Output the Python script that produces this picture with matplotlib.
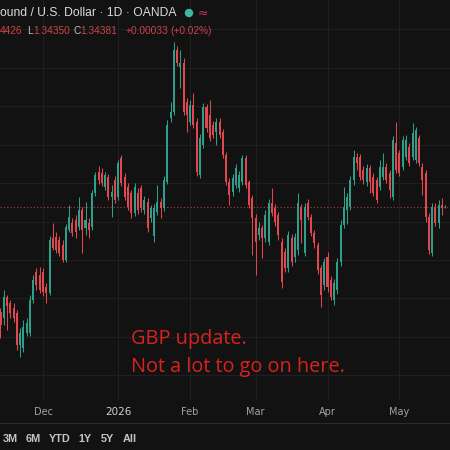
import numpy as np
import pandas as pd
import matplotlib
matplotlib.use('Agg')
import matplotlib.pyplot as plt
from matplotlib.lines import Line2D

# daily GBP/USD candles (12 Nov 2025 .. 21 May 2026)
opens = [1.3165, 1.3149, 1.3204, 1.3188, 1.3175, 1.3162, 1.3079, 1.3071, 1.3110, 1.3110,
         1.3196, 1.3269, 1.3261, 1.3269, 1.3230, 1.3214, 1.3357, 1.3360, 1.3352, 1.3339,
         1.3300, 1.3378, 1.3396, 1.3404, 1.3386, 1.3430, 1.3383, 1.3396, 1.3386, 1.3474,
         1.3529, 1.3526, 1.3490, 1.3516, 1.3464, 1.3508, 1.3464, 1.3565, 1.3516, 1.3490,
         1.3474, 1.3422, 1.3474, 1.3487, 1.3430, 1.3451, 1.3409, 1.3362, 1.3425, 1.3451,
         1.3435, 1.3503, 1.3669, 1.3685, 1.3846, 1.3802, 1.3812, 1.3711, 1.3659, 1.3703,
         1.3659, 1.3521, 1.3599, 1.3698, 1.3677, 1.3651, 1.3633, 1.3659, 1.3633, 1.3573,
         1.3503, 1.3477, 1.3495, 1.3487, 1.3503, 1.3565, 1.3503, 1.3461, 1.3409, 1.3365,
         1.3383, 1.3357, 1.3347, 1.3448, 1.3435, 1.3417, 1.3347, 1.3321, 1.3279, 1.3357,
         1.3308, 1.3326, 1.3438, 1.3318, 1.3448, 1.3412, 1.3370, 1.3339, 1.3279, 1.3235,
         1.3308, 1.3248, 1.3196, 1.3222, 1.3295, 1.3391, 1.3430, 1.3438, 1.3508, 1.3568,
         1.3568, 1.3534, 1.3503, 1.3539, 1.3516, 1.3508, 1.3490, 1.3516, 1.3542, 1.3526,
         1.3464, 1.3604, 1.3578, 1.3542, 1.3568, 1.3594, 1.3568, 1.3560, 1.3617, 1.3542,
         1.3526, 1.3412, 1.3318, 1.3438, 1.3396, 1.3443, 1.3437]
highs = [1.3175, 1.3222, 1.3209, 1.3196, 1.3188, 1.3170, 1.3123, 1.3144, 1.3149, 1.3209,
         1.3261, 1.3279, 1.3282, 1.3279, 1.3240, 1.3362, 1.3396, 1.3373, 1.3362, 1.3352,
         1.3394, 1.3443, 1.3409, 1.3417, 1.3464, 1.3438, 1.3451, 1.3409, 1.3482, 1.3529,
         1.3544, 1.3539, 1.3529, 1.3524, 1.3495, 1.3518, 1.3560, 1.3573, 1.3526, 1.3500,
         1.3482, 1.3500, 1.3487, 1.3495, 1.3466, 1.3461, 1.3443, 1.3446, 1.3495, 1.3461,
         1.3518, 1.3664, 1.3711, 1.3867, 1.3856, 1.3846, 1.3825, 1.3721, 1.3716, 1.3734,
         1.3669, 1.3628, 1.3708, 1.3706, 1.3716, 1.3661, 1.3669, 1.3669, 1.3641, 1.3581,
         1.3513, 1.3524, 1.3550, 1.3531, 1.3573, 1.3573, 1.3508, 1.3469, 1.3420, 1.3399,
         1.3391, 1.3430, 1.3459, 1.3487, 1.3446, 1.3425, 1.3357, 1.3331, 1.3375, 1.3368,
         1.3370, 1.3474, 1.3446, 1.3448, 1.3459, 1.3420, 1.3378, 1.3347, 1.3287, 1.3305,
         1.3321, 1.3258, 1.3251, 1.3305, 1.3404, 1.3490, 1.3474, 1.3518, 1.3586, 1.3578,
         1.3576, 1.3544, 1.3550, 1.3547, 1.3526, 1.3516, 1.3560, 1.3578, 1.3552, 1.3534,
         1.3622, 1.3659, 1.3586, 1.3622, 1.3625, 1.3604, 1.3656, 1.3646, 1.3625, 1.3552,
         1.3534, 1.3422, 1.3448, 1.3448, 1.3456, 1.3461, 1.34426]
lows = [1.3097, 1.3131, 1.3118, 1.3149, 1.3139, 1.3066, 1.3048, 1.3061, 1.3102, 1.3102,
        1.3188, 1.3222, 1.3214, 1.3206, 1.3188, 1.3209, 1.3326, 1.3318, 1.3310, 1.3295,
        1.3295, 1.3373, 1.3362, 1.3357, 1.3378, 1.3318, 1.3365, 1.3357, 1.3378, 1.3466,
        1.3498, 1.3492, 1.3482, 1.3456, 1.3412, 1.3448, 1.3456, 1.3492, 1.3456, 1.3430,
        1.3409, 1.3414, 1.3420, 1.3425, 1.3420, 1.3373, 1.3399, 1.3347, 1.3417, 1.3409,
        1.3427, 1.3498, 1.3659, 1.3677, 1.3804, 1.3747, 1.3677, 1.3633, 1.3651, 1.3643,
        1.3518, 1.3513, 1.3591, 1.3633, 1.3609, 1.3617, 1.3599, 1.3617, 1.3565, 1.3495,
        1.3443, 1.3466, 1.3487, 1.3477, 1.3495, 1.3487, 1.3435, 1.3313, 1.3261, 1.3352,
        1.3305, 1.3347, 1.3339, 1.3414, 1.3388, 1.3352, 1.3227, 1.3269, 1.3269, 1.3284,
        1.3295, 1.3313, 1.3344, 1.3310, 1.3404, 1.3362, 1.3331, 1.3264, 1.3178, 1.3222,
        1.3217, 1.3196, 1.3183, 1.3212, 1.3284, 1.3383, 1.3394, 1.3430, 1.3495, 1.3534,
        1.3508, 1.3498, 1.3492, 1.3474, 1.3466, 1.3448, 1.3482, 1.3508, 1.3500, 1.3461,
        1.3456, 1.3526, 1.3518, 1.3534, 1.3560, 1.3544, 1.3560, 1.3552, 1.3544, 1.3469,
        1.3399, 1.3316, 1.3310, 1.3388, 1.3383, 1.3417, 1.34350]
closes = [1.3131, 1.3204, 1.3180, 1.3162, 1.3149, 1.3079, 1.3110, 1.3126, 1.3136, 1.3196,
          1.3248, 1.3235, 1.3222, 1.3217, 1.3214, 1.3352, 1.3331, 1.3326, 1.3318, 1.3300,
          1.3386, 1.3412, 1.3370, 1.3373, 1.3430, 1.3378, 1.3404, 1.3378, 1.3474, 1.3521,
          1.3508, 1.3500, 1.3521, 1.3464, 1.3477, 1.3456, 1.3552, 1.3500, 1.3464, 1.3438,
          1.3422, 1.3490, 1.3430, 1.3435, 1.3456, 1.3383, 1.3435, 1.3435, 1.3451, 1.3435,
          1.3508, 1.3651, 1.3685, 1.3846, 1.3812, 1.3812, 1.3685, 1.3677, 1.3703, 1.3651,
          1.3529, 1.3617, 1.3698, 1.3643, 1.3617, 1.3625, 1.3659, 1.3625, 1.3573, 1.3503,
          1.3469, 1.3513, 1.3539, 1.3521, 1.3565, 1.3495, 1.3443, 1.3409, 1.3347, 1.3383,
          1.3357, 1.3417, 1.3448, 1.3422, 1.3399, 1.3365, 1.3243, 1.3279, 1.3365, 1.3295,
          1.3360, 1.3448, 1.3404, 1.3438, 1.3412, 1.3370, 1.3344, 1.3274, 1.3209, 1.3295,
          1.3230, 1.3204, 1.3240, 1.3295, 1.3391, 1.3438, 1.3464, 1.3508, 1.3568, 1.3552,
          1.3516, 1.3508, 1.3539, 1.3503, 1.3474, 1.3456, 1.3542, 1.3542, 1.3508, 1.3482,
          1.3612, 1.3534, 1.3526, 1.3612, 1.3612, 1.3552, 1.3630, 1.3638, 1.3552, 1.3508,
          1.3412, 1.3326, 1.3438, 1.3396, 1.3443, 1.3435, 1.34381]
dates = pd.bdate_range('2025-11-12', periods=len(closes))
price_levels = np.arange(1.28, 1.41, 0.01)

bg = '#121212'
up_col = '#2f9e8a'
down_col = '#e2474f'

fig = plt.figure(figsize=(4.5, 4.5), dpi=100, facecolor=bg)
ax = fig.add_axes([0, 50 / 450, 1, 400 / 450], facecolor=bg)

o = np.array(opens)
h = np.array(highs)
l = np.array(lows)
c = np.array(closes)
x = np.arange(len(c))
cols = np.where(c >= o, up_col, down_col)

ax.vlines(x, l, h, colors=cols, linewidth=0.75, zorder=3)
ax.bar(x, np.maximum(np.abs(c - o), 0.00012), bottom=np.minimum(o, c),
       width=0.62, color=cols, linewidth=0, zorder=4)

# last price line
ax.axhline(c[-1], color=down_col, lw=0.8, ls=(0, (1, 2)), alpha=0.75, zorder=2)

# month ticks like tradingview (first bar of each month)
month_idx = [i for i in range(1, len(dates)) if dates[i].month != dates[i - 1].month]
month_lbl = [str(dates[i].year) if dates[i].month == 1 else dates[i].strftime('%b')
             for i in month_idx]
ax.set_xticks(month_idx, month_lbl)
ax.set_yticks(price_levels)
ax.grid(True, color='#1f1f1f', lw=0.8, zorder=0)
ax.tick_params(axis='x', length=0, pad=5, labelsize=7, labelcolor='#a3a3a3')
ax.tick_params(axis='y', left=False, labelleft=False)
for lab in ax.get_xticklabels():
    if lab.get_text().isdigit():
        lab.set_color('#d0d0d0')
        lab.set_fontsize(7.5)
for s in ax.spines.values():
    s.set_visible(False)
ax.set_xlim(-0.15, 137.46)
ax.set_ylim(1.2936, 1.3976)

# header (cut off on the left like the screenshot)
fig.text(0.0, 1 - 13 / 450, 'ound / U.S. Dollar \u00b7 1D \u00b7 OANDA', color='#dadada',
         fontsize=8.7, va='center', ha='left', family='Liberation Sans')
fig.add_artist(plt.Circle((189 / 450, 1 - 13 / 450), 3.5 / 450, color='#3fb8a0'))
fig.text(203 / 450, 1 - 13 / 450, '\u2248', color='#d0305f', fontsize=9,
         va='center', ha='center')
hdr = [(0, '4426', down_col), (27, 'L', '#d6d6d6'), (33, '1.34350', down_col),
       (74, 'C', '#d6d6d6'), (80, '1.34381', down_col), (125, '+0.00033', down_col),
       (170, '(+0.02%)', down_col)]
for px, t, col in hdr:
    fig.text(px / 450, 1 - 31 / 450, t, color=col, fontsize=7.3, va='center',
             ha='left', family='Liberation Sans', alpha=0.9)

# annotation
fig.text(131 / 450, 1 - 339 / 450, 'GBP update.', color='#d8221f', fontsize=14.3,
         family='Open Sans', va='center', ha='left')
fig.text(131 / 450, 1 - 367 / 450, 'Not a lot to go on here.', color='#d8221f',
         fontsize=14.3, family='Open Sans', va='center', ha='left')

# bottom bar
fig.add_artist(Line2D([0, 1], [1 - 423 / 450] * 2, color='#2a2a2a', lw=0.8))
for px, t in [(10, '3M'), (33, '6M'), (60, 'YTD'), (85, '1Y'), (107, '5Y'), (130, 'All')]:
    fig.text(px / 450, 1 - 439 / 450, t, color='#c4c4c4', fontsize=7.8, fontweight='bold',
             va='center', ha='center', family='Liberation Sans')

fig.savefig('out.png', dpi=100, facecolor=bg)
